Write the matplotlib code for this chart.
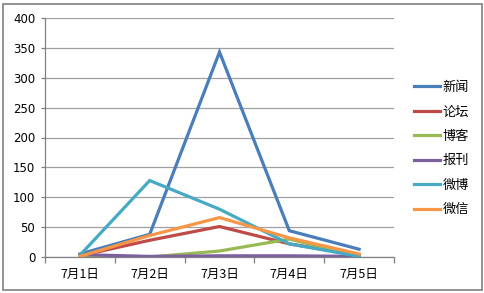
import matplotlib
matplotlib.use("Agg")
import matplotlib.pyplot as plt
from matplotlib.patches import Rectangle

plt.rcParams['font.family'] = ['Noto Sans CJK SC', 'DejaVu Sans']

categories = ["7月1日", "7月2日", "7月3日", "7月4日", "7月5日"]
series_names = ["新闻", "论坛", "博客", "报刊", "微博", "微信"]
xinwen = [5, 38, 343, 44, 13]
luntan = [2, 28, 51, 22, 3]
boke = [0, 0, 10, 30, 1]
baokan = [4, 1, 2, 2, 1]
weibo = [3, 128, 80, 22, 1]
weixin = [1, 36, 66, 32, 5]
colors = ["#4A7EBB", "#BE4B48", "#98B954", "#7D60A0", "#46AAC5", "#F79646"]
yticks = [0, 50, 100, 150, 200, 250, 300, 350, 400]

fig = plt.figure(figsize=(4.85, 2.93), dpi=100)
ax = fig.add_axes([45/485, 1-257/293, (394-45)/485, (257-18)/293])

x = list(range(len(categories)))
data = [xinwen, luntan, boke, baokan, weibo, weixin]
lines = []
for name, vals, c in zip(series_names, data, colors):
    ln, = ax.plot(x, vals, color=c, lw=2.3, label=name, solid_joinstyle='miter', zorder=3)
    lines.append(ln)

ax.set_xlim(-0.5, len(categories) - 0.5)
ax.set_ylim(0, 400)
ax.set_yticks(yticks)
ax.set_yticklabels([str(v) for v in yticks], fontsize=8.5, family=['DejaVu Sans'])
ax.yaxis.grid(True, color="#A0A0A0", lw=0.9)
ax.set_axisbelow(True)
ax.set_xticks(x)
ax.set_xticklabels(categories, fontsize=9)
ax.set_xticks([i - 0.5 for i in range(len(categories) + 1)], minor=True)
ax.tick_params(axis='x', which='major', length=0, pad=8)
ax.tick_params(axis='x', which='minor', length=4, color="#808080", width=0.9)
ax.tick_params(axis='y', length=3, color="#808080", width=0.9, pad=4)
for s in ['top', 'right']:
    ax.spines[s].set_visible(False)
ax.spines['left'].set_color("#808080")
ax.spines['bottom'].set_color("#808080")
ax.spines['left'].set_linewidth(0.9)
ax.spines['bottom'].set_linewidth(0.9)

leg = fig.legend(handles=lines, labels=series_names, loc='upper left',
                 bbox_to_anchor=(414/485, 1-81/293), frameon=False, fontsize=9.5,
                 handlelength=2.0, handletextpad=0.15, labelspacing=0.87,
                 borderaxespad=0, borderpad=0)

fig.patches.append(Rectangle((3/485, 3/293), 479/485, 286/293, transform=fig.transFigure,
                             fill=False, edgecolor="#808080", lw=1.2))

fig.savefig("out.png", dpi=100)
